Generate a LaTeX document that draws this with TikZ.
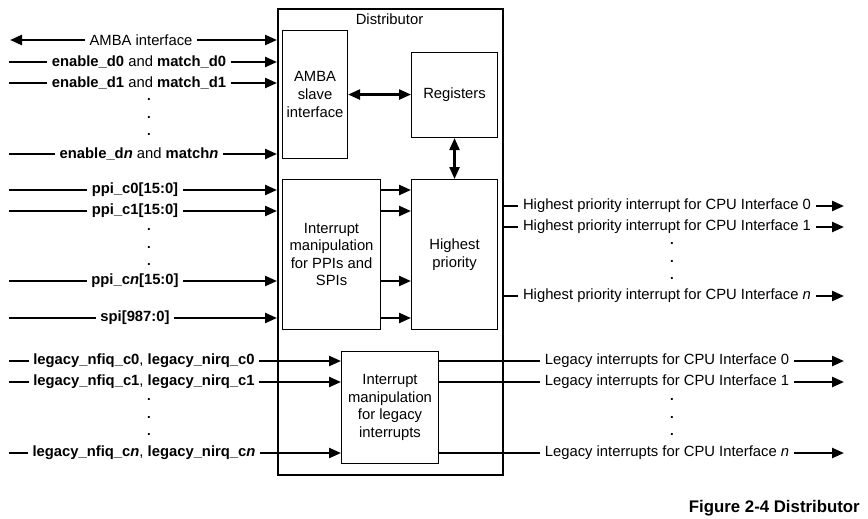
\documentclass[tikz,border=0pt]{standalone}
\usepackage{fontspec}
\setmainfont{Liberation Sans}
\usetikzlibrary{arrows.meta}

\def\px{0.75pt}

\tikzset{
    sig/.style={line width=1.75pt, -{Triangle[length=9pt,width=7.5pt]}},
    bisig/.style={line width=1.75pt, {Triangle[length=9pt,width=7.5pt]}-{Triangle[length=9pt,width=7.5pt]}},
    block/.style={draw, line width=0.8pt, align=center, inner sep=0pt, anchor=north west},
    lbl/.style={fill=white, inner xsep=3.5pt, inner ysep=1pt},
    dotlbl/.style={inner sep=0pt, font=\bfseries},
}

\begin{document}
\begin{tikzpicture}[x=0.75pt, y=-0.75pt, font=\fontsize{11.1}{13.2}\selectfont]

    % Page size of the figure
    \useasboundingbox (0,0) rectangle (868,518);

    % Outer Distributor block
    \node[block, line width=1.2pt, minimum width=225*\px, minimum height=466*\px] (dist) at (277,8) {};
    \node (distlbl) at (389.5,19) {Distributor};

    % Inner blocks
    \node[block, minimum width=65*\px, minimum height=128*\px] (ambaif) at (282,30) {AMBA\\slave\\interface};
    \node[block, minimum width=86*\px, minimum height=85*\px] (regs) at (411,52) {Registers};
    \node[block, minimum width=98*\px, minimum height=150*\px] (ppiman) at (282,179) {Interrupt\\manipulation\\for PPIs and\\SPIs};
    \node[block, minimum width=86*\px, minimum height=150*\px] (hprio) at (411,179) {Highest\\priority};
    \node[block, minimum width=97*\px, minimum height=112*\px] (legman) at (341,351) {Interrupt\\manipulation\\for legacy\\interrupts};

    % Links between the inner blocks
    \draw[bisig] (ambaif.east) -- (ambaif.east -| regs.west);
    \draw[bisig] (regs.south) -- (hprio.north);

    % AMBA interface (both directions)
    \coordinate (amba) at (10,40);
    \draw[bisig] (amba) -- (amba -| dist.west);
    \node[lbl] (ambalbl) at (141,40) {AMBA interface};

    % enable and match inputs
    \foreach \y/\i in {62/0, 83/1}{
        \coordinate (en\i) at (9,\y);
        \draw[sig] (en\i) -- (en\i -| dist.west);
        \node[lbl] (enlbl\i) at (139,\y) {\textbf{enable\_d\i} and \textbf{match\_d\i}};
    }
    \coordinate (enn) at (9,154);
    \draw[sig] (enn) -- (enn -| dist.west);
    \node[lbl] (enlbln) at (139,154) {\textbf{enable\_d\textit{n}} and \textbf{match\textit{n}}};

    % PPI and SPI inputs, then on to Highest priority
    \coordinate (pin0) at (9,190);
    \coordinate (pin1) at (9,211);
    \coordinate (pinn) at (9,281);
    \coordinate (pins) at (9,318);
    \foreach \i in {0,1,n,s}{
        \draw[sig] (pin\i) -- (pin\i -| dist.west);
        \draw[sig] (pin\i -| ppiman.east) -- (pin\i -| hprio.west);
    }
    \node[lbl] (pinlbl0) at (135,190) {\textbf{ppi\_c0[15:0]}};
    \node[lbl] (pinlbl1) at (135,211) {\textbf{ppi\_c1[15:0]}};
    \node[lbl] (pinlbln) at (135,281) {\textbf{ppi\_c\textit{n}[15:0]}};
    \node[lbl] (pinlbls) at (135,318) {\textbf{spi[987:0]}};

    % Legacy inputs
    \foreach \y/\i in {361/0, 382/1, 453/n}{
        \coordinate (lin\i) at (9,\y);
        \draw[sig] (lin\i) -- (lin\i -| legman.west);
    }
    \node[lbl] (linlbl0) at (144,361) {\textbf{legacy\_nfiq\_c0}, \textbf{legacy\_nirq\_c0}};
    \node[lbl] (linlbl1) at (144,382) {\textbf{legacy\_nfiq\_c1}, \textbf{legacy\_nirq\_c1}};
    \node[lbl] (linlbln) at (144,453) {\textbf{legacy\_nfiq\_c\textit{n}}, \textbf{legacy\_nirq\_c\textit{n}}};

    % Highest priority outputs
    \foreach \y/\i in {206/0, 227/1, 296/n}{
        \coordinate (hpout\i) at (844,\y);
        \draw[sig] (hpout\i -| dist.east) -- (hpout\i);
    }
    \node[lbl] (hplbl0) at (667,206) {Highest priority interrupt for CPU Interface 0};
    \node[lbl] (hplbl1) at (667,227) {Highest priority interrupt for CPU Interface 1};
    \node[lbl] (hplbln) at (667,296) {Highest priority interrupt for CPU Interface \textit{n}};

    % Legacy outputs
    \foreach \y/\i in {361/0, 382/1, 453/n}{
        \coordinate (lout\i) at (844,\y);
        \draw[sig] (lout\i -| legman.east) -- (lout\i);
    }
    \node[lbl] (loutlbl0) at (667,361) {Legacy interrupts for CPU Interface 0};
    \node[lbl] (loutlbl1) at (667,382) {Legacy interrupts for CPU Interface 1};
    \node[lbl] (loutlbln) at (667,453) {Legacy interrupts for CPU Interface \textit{n}};

    % Dots for the left side
    \foreach \y in {100,118,135,230,248,265,400,418,435}
        \node[dotlbl] (dl\y) at (149,\y) {.};

    % Dots for the right side
    \foreach \y in {244,262,279,400,418,435}
        \node[dotlbl] (dr\y) at (672,\y) {.};

    % Caption
    \node[anchor=east, inner sep=0pt, font=\bfseries\fontsize{12.6}{15}\selectfont] (caption) at (860,508) {Figure 2-4 Distributor};

\end{tikzpicture}
\end{document}
